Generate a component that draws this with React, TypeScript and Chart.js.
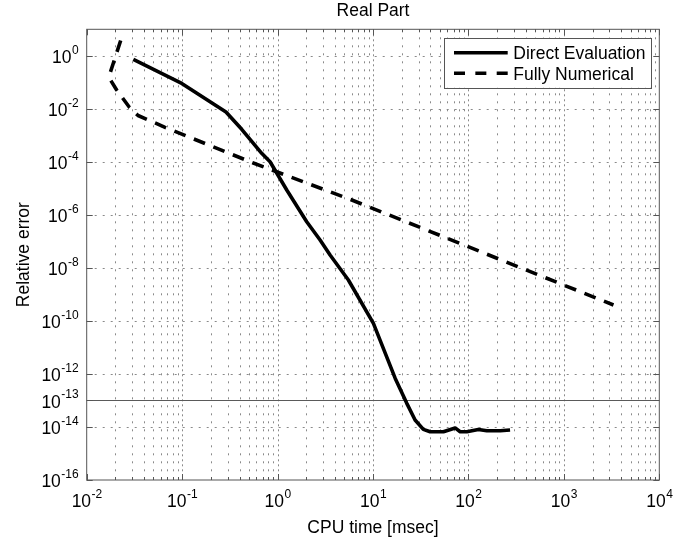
import React, { useEffect, useRef } from "react";
import { Chart, registerables } from "chart.js";

Chart.register(...registerables);

// ---- data ----
const seriesNames = ["Direct Evaluation", "Fully Numerical"];

const directX = [0.0308, 0.0991, 0.288, 0.421, 0.682, 0.834, 1.248, 2.02, 2.79, 3.55, 5.52, 10.1, 17.1, 22.6, 27.6, 33.7, 39.7, 54.7, 72.6, 81.9, 96.2, 127, 156, 215, 273];
const directY = [0.738, 0.091, 0.0076, 0.00169, 2.1e-4, 1.01e-4, 8.7e-6, 5.5e-7, 1.13e-7, 3.06e-8, 3.5e-9, 8.1e-11, 6.8e-13, 7.8e-14, 1.83e-14, 8.15e-15, 6.6e-15, 6.6e-15, 9.2e-15, 6.6e-15, 6.6e-15, 8.1e-15, 7.2e-15, 7.2e-15, 7.7e-15];

const numericalX = [0.0227, 0.01746, 0.01776, 0.0206, 0.028, 0.0345, 0.0662, 0.557, 6.0, 3311];
const numericalY = [3.78, 0.206, 0.1224, 0.0513, 0.01143, 5.6e-3, 2.01e-3, 9.05e-5, 3.64e-6, 3.98e-10];

const xTickExps = [-2, -1, 0, 1, 2, 3, 4];
const yTickExps = [0, -2, -4, -6, -8, -10, -12, -13, -14, -16];
const refLineExp = -13;

const titleText = "Real Part";
const xTitle = "CPU time [msec]";
const yTitle = "Relative error";

const FONT = "'Liberation Sans', Arial, Helvetica, sans-serif";
const MAIN_PX = 17.5;
const EXP_PX = 12;

function drawPow(ctx: CanvasRenderingContext2D, exp: number, x: number, baseY: number, align: "center" | "right") {
  const base = "10";
  const sup = String(exp);
  ctx.font = `${MAIN_PX}px ${FONT}`;
  const wb = ctx.measureText(base).width;
  ctx.font = `${EXP_PX}px ${FONT}`;
  const we = ctx.measureText(sup).width;
  const total = wb + we;
  const start = align === "center" ? x - total / 2 : x - total;
  ctx.textAlign = "left";
  ctx.textBaseline = "alphabetic";
  ctx.fillStyle = "#000";
  ctx.font = `${MAIN_PX}px ${FONT}`;
  ctx.fillText(base, start, baseY);
  ctx.font = `${EXP_PX}px ${FONT}`;
  ctx.fillText(sup, start + wb + 0.5, baseY - 9.5);
}

const decorPlugin = {
  id: "decor",
  beforeDatasetsDraw(chart: any) {
    const { ctx, chartArea: ca, scales } = chart;
    const xs = scales.x;
    const ys = scales.y;
    ctx.save();
    ctx.lineWidth = 1;
    ctx.strokeStyle = "#8a8a8a";
    const e0 = xTickExps[0];
    const e1 = xTickExps[xTickExps.length - 1];
    for (let e = e0; e < e1; e++) {
      for (let k = 1; k <= 9; k++) {
        if (k === 1 && e === e0) continue;
        const px = Math.round(xs.getPixelForValue(k * Math.pow(10, e))) + 0.5;
        ctx.setLineDash(k === 1 ? [2, 3] : [2, 6]);
        ctx.beginPath();
        ctx.moveTo(px, ca.top);
        ctx.lineTo(px, ca.bottom);
        ctx.stroke();
      }
    }
    for (const e of yTickExps) {
      if (e === yTickExps[yTickExps.length - 1] || e === refLineExp) continue;
      const py = Math.round(ys.getPixelForValue(Math.pow(10, e))) + 0.5;
      ctx.setLineDash([2, 6]);
      ctx.beginPath();
      ctx.moveTo(ca.left, py);
      ctx.lineTo(ca.right, py);
      ctx.stroke();
    }
    {
      const py = Math.round(ys.getPixelForValue(Math.pow(10, refLineExp))) + 0.5;
      ctx.setLineDash([]);
      ctx.strokeStyle = "#5a5a5a";
      ctx.beginPath();
      ctx.moveTo(ca.left, py);
      ctx.lineTo(ca.right, py);
      ctx.stroke();
    }
    ctx.restore();
  },
  afterDatasetsDraw(chart: any) {
    const { ctx, chartArea: ca, scales } = chart;
    const xs = scales.x;
    const ys = scales.y;
    ctx.save();
    ctx.setLineDash([]);
    ctx.strokeStyle = "#555";
    ctx.lineWidth = 1;
    ctx.strokeRect(ca.left, ca.top, ca.right - ca.left, ca.bottom - ca.top);
    const e0 = xTickExps[0];
    const e1 = xTickExps[xTickExps.length - 1];
    for (let e = e0; e <= e1; e++) {
      for (let k = 1; k <= 9; k++) {
        if (e === e1 && k > 1) break;
        const px = Math.round(xs.getPixelForValue(k * Math.pow(10, e))) + 0.5;
        const len = k === 1 ? 6 : 3;
        ctx.beginPath();
        ctx.moveTo(px, ca.bottom);
        ctx.lineTo(px, ca.bottom - len);
        ctx.moveTo(px, ca.top);
        ctx.lineTo(px, ca.top + len);
        ctx.stroke();
      }
    }
    for (const e of yTickExps) {
      const py = Math.round(ys.getPixelForValue(Math.pow(10, e))) + 0.5;
      ctx.beginPath();
      ctx.moveTo(ca.left, py);
      ctx.lineTo(ca.left + 6, py);
      ctx.moveTo(ca.right, py);
      ctx.lineTo(ca.right - 6, py);
      ctx.stroke();
    }
    for (const e of xTickExps) {
      const px = xs.getPixelForValue(Math.pow(10, e));
      drawPow(ctx, e, px, ca.bottom + 27, "center");
    }
    for (const e of yTickExps) {
      const py = ys.getPixelForValue(Math.pow(10, e));
      drawPow(ctx, e, ca.left - 8.5, py + 7.2, "right");
    }
    ctx.fillStyle = "#000";
    ctx.font = `${MAIN_PX}px ${FONT}`;
    ctx.textAlign = "center";
    ctx.textBaseline = "alphabetic";
    const cx = (ca.left + ca.right) / 2;
    ctx.fillText(titleText, cx, ca.top - 13.3);
    ctx.fillText(xTitle, cx, ca.bottom + 53.3);
    ctx.save();
    ctx.translate(ca.left - 57.4, (ca.top + ca.bottom) / 2);
    ctx.rotate(-Math.PI / 2);
    ctx.fillText(yTitle, 0, 0);
    ctx.restore();
    const bw = 206.7;
    const bh = 49.6;
    const bx = ca.right - 8.3 - bw;
    const by = ca.top + 8.4;
    ctx.fillStyle = "#fff";
    ctx.fillRect(bx, by, bw, bh);
    ctx.strokeStyle = "#555";
    ctx.lineWidth = 1;
    ctx.strokeRect(Math.round(bx) + 0.5, Math.round(by) + 0.5, Math.round(bw), Math.round(bh));
    const rows = [15, 35.6];
    const dashes = [[], [11, 10.35]];
    seriesNames.forEach((name, i) => {
      const ly = by + rows[i];
      ctx.strokeStyle = "#000";
      ctx.lineWidth = 3.5;
      ctx.lineCap = "butt";
      ctx.setLineDash(dashes[i]);
      ctx.beginPath();
      ctx.moveTo(bx + 9.7, ly);
      ctx.lineTo(bx + 63.4, ly);
      ctx.stroke();
      ctx.setLineDash([]);
      ctx.fillStyle = "#000";
      ctx.font = `${MAIN_PX}px ${FONT}`;
      ctx.textAlign = "left";
      ctx.textBaseline = "alphabetic";
      ctx.fillText(name, bx + 69, ly + 6.7);
    });
    ctx.restore();
  },
};

export default function App() {
  const ref = useRef<HTMLCanvasElement | null>(null);
  useEffect(() => {
    if (!ref.current) return;
    const chart = new Chart(ref.current, {
      type: "line",
      data: {
        datasets: [
          {
            label: seriesNames[0],
            data: directX.map((x, i) => ({ x, y: directY[i] })),
            borderColor: "#000",
            borderWidth: 3.6,
            pointRadius: 0,
            tension: 0,
            borderJoinStyle: "round",
            borderCapStyle: "butt",
            fill: false,
          },
          {
            label: seriesNames[1],
            data: numericalX.map((x, i) => ({ x, y: numericalY[i] })),
            borderColor: "#000",
            borderWidth: 3.6,
            borderDash: [12, 9],
            pointRadius: 0,
            tension: 0,
            borderJoinStyle: "round",
            borderCapStyle: "butt",
            fill: false,
          },
        ],
      },
      options: {
        animation: false,
        responsive: false,
        maintainAspectRatio: false,
        devicePixelRatio: 1,
        layout: { padding: { left: 86.7, right: 38.7, top: 29.3, bottom: 65 } },
        plugins: { legend: { display: false }, title: { display: false }, tooltip: { enabled: false } },
        scales: {
          x: {
            type: "logarithmic",
            min: Math.pow(10, xTickExps[0]),
            max: Math.pow(10, xTickExps[xTickExps.length - 1]),
            bounds: "data",
            display: false,
          },
          y: {
            type: "logarithmic",
            min: Math.pow(10, yTickExps[yTickExps.length - 1]),
            max: 10,
            bounds: "data",
            display: false,
          },
        },
      } as any,
      plugins: [decorPlugin],
    });
    return () => chart.destroy();
  }, []);
  return (
    <canvas
      ref={ref}
      width={698}
      height={545}
      style={{ display: "block", position: "fixed", left: 0, top: 0, width: 698, height: 545 }}
    />
  );
}
